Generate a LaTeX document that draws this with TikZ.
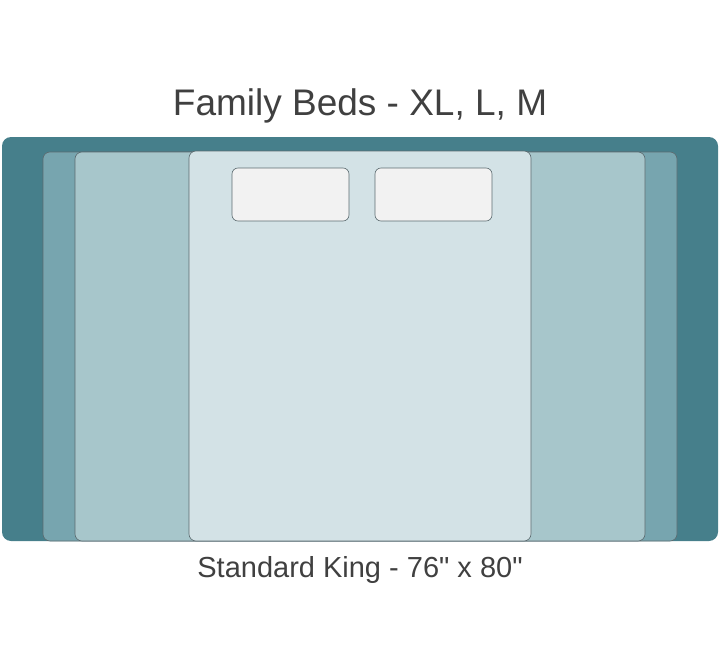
\documentclass[tikz,border=0pt]{standalone}
\usepackage{fontspec}
\setmainfont{Liberation Sans}[Ligatures=TeXOff]
\definecolor{xlbed}{HTML}{467F8B}
\definecolor{lbed}{HTML}{77A5AF}
\definecolor{mbed}{HTML}{A7C6CB}
\definecolor{kingbed}{HTML}{D3E2E6}
\definecolor{pillow}{HTML}{F2F2F2}
\definecolor{edge}{HTML}{5C6B70}
\definecolor{textgray}{HTML}{404040}
\begin{document}
\begin{tikzpicture}[x=1pt, y=-1pt]
					\useasboundingbox (0,0) rectangle (721,669);
					\tikzset{bed/.style={rounded corners=7pt, draw=edge, line width=0.6pt}}
					
					\fill[xlbed, rounded corners=9pt] (2,137) rectangle (718,541);
					\draw[bed, fill=lbed] (43,152) rectangle (677,541);
					\draw[bed, fill=mbed] (75,152) rectangle (645,541);
					\draw[bed, fill=kingbed] (189,151) rectangle (531,541);
					
					\draw[bed, fill=pillow, rounded corners=6pt] (232,168) rectangle (349,221);
					\draw[bed, fill=pillow, rounded corners=6pt] (375,168) rectangle (492,221);
					
					\node[text=textgray, font=\fontsize{37}{42}\selectfont] (title) at (360,106) {Family Beds - XL, L, M};
					\node[text=textgray, font=\fontsize{29}{33}\selectfont] (size) at (360,570) {Standard King - 76" x 80"};
				\end{tikzpicture}
\end{document}
